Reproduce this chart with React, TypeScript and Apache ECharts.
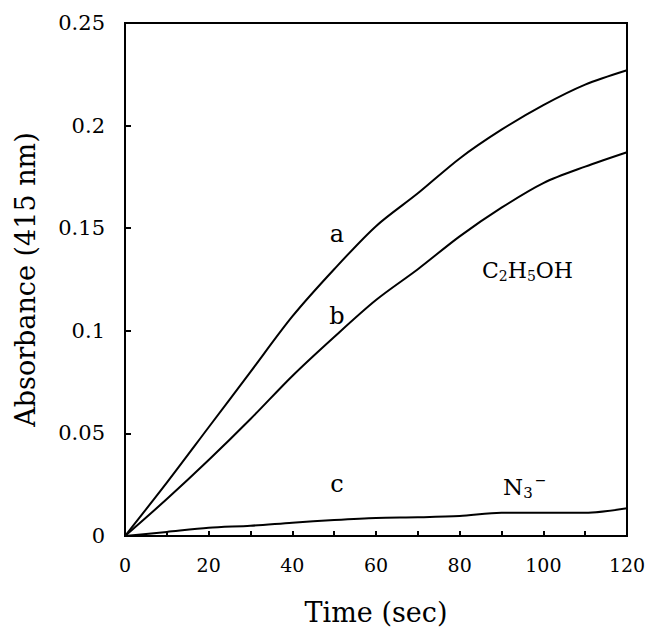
import React, { useEffect, useRef } from "react";
import * as echarts from "echarts";

const times = [0, 10, 20, 30, 40, 50, 60, 70, 80, 90, 100, 110, 120];
const seriesA = [0, 0.026, 0.053, 0.08, 0.107, 0.13, 0.151, 0.167, 0.184, 0.198, 0.21, 0.22, 0.227];
const seriesB = [0, 0.018, 0.037, 0.057, 0.078, 0.097, 0.115, 0.13, 0.146, 0.16, 0.172, 0.18, 0.187];
const seriesC = [0, 0.002, 0.004, 0.005, 0.0065, 0.0078, 0.0088, 0.0091, 0.0097, 0.0113, 0.0113, 0.0113, 0.0135];
const xTickLabels = ["0", "20", "40", "60", "80", "100", "120"];

const FONT = "'DejaVu Serif', 'Liberation Serif', serif";

export default function App() {
  const ref = useRef<HTMLDivElement>(null);
  useEffect(() => {
    document.body.style.margin = "0";
    const chart = echarts.init(ref.current!, null, { renderer: "svg" });
    const toPairs = (ys: number[]) => times.map((t, i) => [t, ys[i]]);
    const lineStyle = { color: "#000", width: 2 };
    chart.setOption({
      animation: false,
      backgroundColor: "#fff",
      grid: {
        left: 125,
        right: 19,
        top: 23,
        bottom: 96,
        show: true,
        borderColor: "#000",
        borderWidth: 2,
        containLabel: false,
        outerBoundsMode: "none",
      },
      xAxis: {
        type: "value",
        min: 0,
        max: 120,
        interval: 10,
        name: "Time (sec)",
        nameLocation: "middle",
        nameGap: 63,
        nameTextStyle: { fontFamily: FONT, fontSize: 27, color: "#000" },
        axisLine: { show: true, lineStyle: { color: "#000", width: 2 } },
        axisTick: { show: true, inside: true, length: 5, lineStyle: { color: "#000", width: 2 } },
        splitLine: { show: false },
        axisLabel: {
          fontFamily: FONT,
          fontSize: 19,
          color: "#000",
          margin: 19,
          formatter: (v: number) => (xTickLabels.includes(String(v)) ? String(v) : ""),
        },
      },
      yAxis: {
        type: "value",
        min: 0,
        max: 0.25,
        interval: 0.05,
        name: "Absorbance (415 nm)",
        nameLocation: "middle",
        nameGap: 86,
        nameTextStyle: { fontFamily: FONT, fontSize: 27, color: "#000" },
        axisLine: { show: true, lineStyle: { color: "#000", width: 2 } },
        axisTick: { show: true, inside: true, length: 6, lineStyle: { color: "#000", width: 2 } },
        splitLine: { show: false },
        axisLabel: { fontFamily: FONT, fontSize: 21, color: "#000", margin: 20 },
      },
      series: [
        { name: "a", type: "line", data: toPairs(seriesA), showSymbol: false, smooth: 0.3, lineStyle },
        { name: "b", type: "line", data: toPairs(seriesB), showSymbol: false, smooth: 0.3, lineStyle },
        { name: "c", type: "line", data: toPairs(seriesC), showSymbol: false, smooth: 0.3, lineStyle },
      ],
      graphic: [
        { type: "text", x: 337, y: 234, style: { text: "a", font: `24px ${FONT}`, fill: "#000", align: "center", verticalAlign: "middle" } },
        { type: "text", x: 337, y: 316, style: { text: "b", font: `24px ${FONT}`, fill: "#000", align: "center", verticalAlign: "middle" } },
        { type: "text", x: 337, y: 484, style: { text: "c", font: `24px ${FONT}`, fill: "#000", align: "center", verticalAlign: "middle" } },
        {
          type: "text",
          x: 482,
          y: 256,
          style: {
            text: "{n|C}{s|2}{n|H}{s|5}{n|OH}",
            fill: "#000",
            rich: {
              n: { fontFamily: FONT, fontSize: 22, color: "#000", lineHeight: 28 },
              s: { fontFamily: FONT, fontSize: 14, color: "#000", padding: [12, 0, 0, 0] },
            },
          },
        },
        {
          type: "text",
          x: 503,
          y: 473,
          style: {
            text: "{n|N}{s|3}{p|−}",
            fill: "#000",
            rich: {
              n: { fontFamily: FONT, fontSize: 23, color: "#000", lineHeight: 28 },
              s: { fontFamily: FONT, fontSize: 15, color: "#000", padding: [12, 0, 0, 0] },
              p: { fontFamily: FONT, fontSize: 14, color: "#000", padding: [0, 0, 14, 2] },
            },
          },
        },
      ],
    });
    return () => chart.dispose();
  }, []);
  return <div ref={ref} style={{ width: 646, height: 632 }} />;
}
